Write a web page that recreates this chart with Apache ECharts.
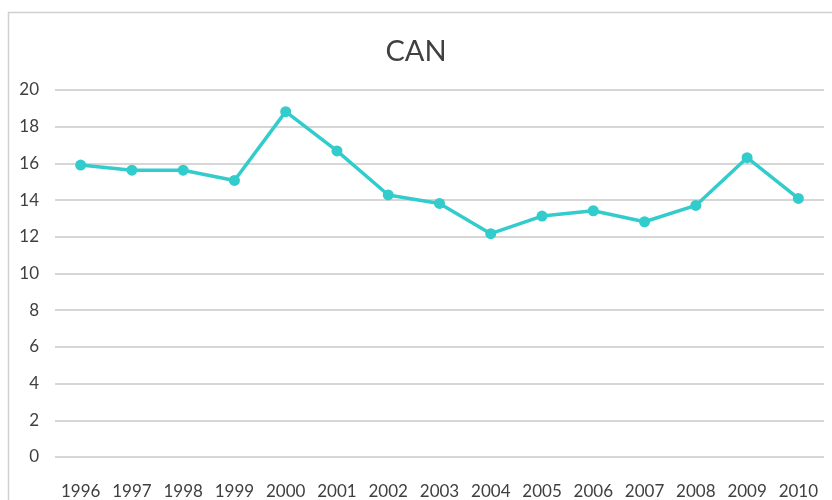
<!DOCTYPE html>
<html>
<head>
<meta charset="utf-8">
<script src="https://cdn.jsdelivr.net/npm/echarts@6/dist/echarts.min.js"></script>
<style>
  html, body { margin: 0; padding: 0; background: #fff; }
  #chart { width: 832px; height: 500px; }
</style>
</head>
<body>
<div id="chart"></div>
<script>
// data
const years = ['1996', '1997', '1998', '1999', '2000', '2001', '2002', '2003',
               '2004', '2005', '2006', '2007', '2008', '2009', '2010'];
const canValues = [15.91, 15.63, 15.63, 15.07, 18.82, 16.68, 14.28, 13.82,
                   12.17, 13.13, 13.42, 12.82, 13.71, 16.31, 14.09];
const yTicks = { min: 0, max: 20, step: 2 };

const chart = echarts.init(document.getElementById('chart'));

const option = {
    animation: false,
    title: {
        text: 'CAN',
        left: 'center',
        top: 32,
        textStyle: {
            fontFamily: 'Lato',
            fontSize: 29,
            fontWeight: 'normal',
            color: '#404040'
        }
    },
    graphic: [
        {
            type: 'rect',
            shape: { x: 8.5, y: 12.5, width: 900, height: 600 },
            style: { fill: 'none', stroke: '#d0d0d0', lineWidth: 1.5 },
            silent: true
        }
    ],
    grid: { left: 55, top: 90, width: 769, height: 367 },
    xAxis: {
        type: 'category',
        data: years,
        boundaryGap: true,
        axisLine: { show: false },
        axisTick: { show: false },
        axisLabel: {
            interval: 0,
            margin: 26,
            fontFamily: 'Lato',
            fontSize: 17,
            color: '#404040'
        }
    },
    yAxis: {
        type: 'value',
        min: yTicks.min,
        max: yTicks.max,
        interval: yTicks.step,
        axisLine: { show: false },
        axisTick: { show: false },
        axisLabel: {
            margin: 16,
            fontFamily: 'Lato',
            fontSize: 17,
            color: '#404040'
        },
        splitLine: { lineStyle: { color: '#c8c8c8', width: 1.5 } }
    },
    series: [
        {
            name: 'CAN',
            type: 'line',
            data: canValues,
            symbol: 'circle',
            symbolSize: 11,
            itemStyle: { color: '#33cccc' },
            lineStyle: { color: '#33cccc', width: 3.5 }
        }
    ]
};

chart.setOption(option);
</script>
</body>
</html>
